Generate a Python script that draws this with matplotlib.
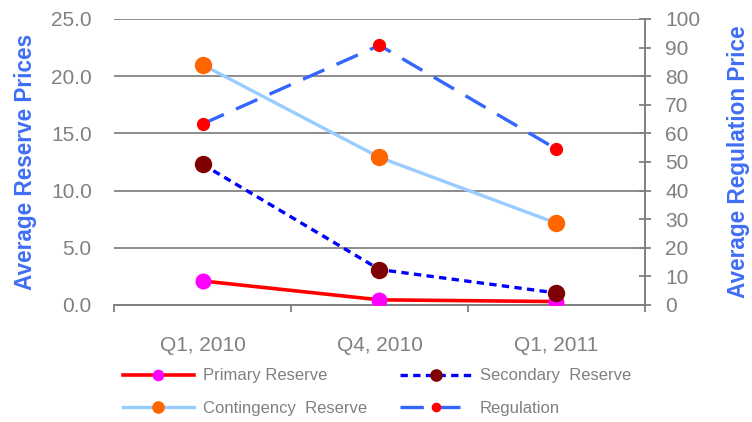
import matplotlib
matplotlib.use("Agg")
import matplotlib.pyplot as plt
from matplotlib.ticker import FixedLocator

categories = ["Q1, 2010", "Q4, 2010", "Q1, 2011"]
primary = [2.1, 0.45, 0.3]
secondary = [12.3, 3.1, 1.05]
contingency = [21.0, 12.9, 7.15]
regulation = [63.3, 90.8, 54.5]

left_ticks = [0, 5, 10, 15, 20, 25]
right_ticks = [0, 10, 20, 30, 40, 50, 60, 70, 80, 90, 100]

plt.rcParams['font.family'] = ['Liberation Sans', 'DejaVu Sans']
GRAY = '#808080'
LBLUE = '#3F6EF5'

fig = plt.figure(figsize=(7.52, 4.22), dpi=100)
ax = fig.add_axes([0.1516, 0.2773, 0.7061, 0.6777])
ax2 = ax.twinx()

x = [i + 0.5 for i in range(len(categories))]

l1, = ax.plot(x, primary, color='#FF0000', lw=2.6, marker='o', ms=10.5,
              mfc='#FF00FF', mec='#FF00FF', label='Primary Reserve', zorder=4)
l2, = ax.plot(x, secondary, color='#0000FF', lw=2.4, ls=(0, (2.2, 1.6)), marker='o', ms=11.5,
              mfc='#7F0000', mec='#7F0000', label='Secondary  Reserve', zorder=4)
l3, = ax.plot(x, contingency, color='#99CCFF', lw=2.4, marker='o', ms=11.5,
              mfc='#FF6600', mec='#FF6600', label='Contingency  Reserve', zorder=3)
l4, = ax2.plot(x, regulation, color='#3366FF', lw=2.4, ls=(0, (7, 4)), marker='o', ms=8.5,
               mfc='#FF0000', mec='#FF0000', label='Regulation', zorder=4)

ax.set_xlim(0, 3)
ax.set_ylim(0, 25)
ax2.set_ylim(0, 100)

ax.yaxis.set_major_locator(FixedLocator(left_ticks))
ax.set_yticklabels([f"{v:.1f}" for v in left_ticks])
ax2.yaxis.set_major_locator(FixedLocator(right_ticks))
ax2.set_yticklabels([str(v) for v in right_ticks])

ax.set_xticks([0, 1, 2, 3])
ax.set_xticklabels([])
ax.set_xticks(x, minor=True)
ax.set_xticklabels(categories, minor=True)
ax.tick_params(axis='x', which='minor', length=0, pad=22, labelsize=15, labelcolor=GRAY)
ax.tick_params(axis='x', which='major', length=5, width=1.3, color=GRAY, direction='out')
ax.tick_params(axis='y', length=0, pad=16, labelsize=15, labelcolor=GRAY)
ax2.tick_params(axis='y', length=9, width=1.3, color=GRAY, direction='inout', pad=10,
                labelsize=15, labelcolor=GRAY)

ax.grid(axis='y', color='#8C8C8C', lw=1.4)
ax.set_axisbelow(True)

for a in (ax, ax2):
    for s in ('top', 'left', 'right', 'bottom'):
        a.spines[s].set_visible(False)
ax2.spines['right'].set_visible(True)
ax2.spines['right'].set_color(GRAY)
ax2.spines['right'].set_linewidth(1.4)
ax.spines['bottom'].set_visible(True)
ax.spines['bottom'].set_color(GRAY)
ax.spines['bottom'].set_linewidth(1.4)

ax.set_ylabel('Average Reserve Prices', color=LBLUE, fontsize=16.3, fontweight='bold', labelpad=10)
ax2.set_ylabel('Average Regulation Price', color=LBLUE, fontsize=16.3, fontweight='bold', labelpad=19)

fig.legend(handles=[l1, l3, l2, l4], ncol=2, loc='upper left', bbox_to_anchor=(0.163, 0.127),
           frameon=False, fontsize=12, labelcolor=GRAY, handlelength=4.3, handletextpad=0.5,
           columnspacing=2.0, labelspacing=1.05, markerscale=0.7, borderaxespad=0, borderpad=0)

fig.savefig('out.png', dpi=100)
